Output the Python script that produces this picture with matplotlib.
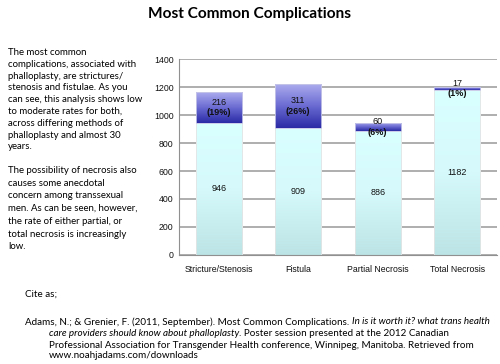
import numpy as np
import matplotlib
matplotlib.use('Agg')
import matplotlib.pyplot as plt
from matplotlib.colors import LinearSegmentedColormap

# data
categories = ['Stricture/Stenosis', 'Fistula', 'Partial Necrosis', 'Total Necrosis']
no_comp = [946, 909, 886, 1182]
comp = [216, 311, 60, 17]
pct = ['19%', '26%', '6%', '1%']
yticks = [0, 200, 400, 600, 800, 1000, 1200, 1400]

body_font = 'Lato'
para1 = ("The most common\ncomplications, associated with\nphalloplasty, are strictures/\n"
         "stenosis and fistulae. As you\ncan see, this analysis shows low\n"
         "to moderate rates for both,\nacross differing methods of\n"
         "phalloplasty and almost 30\nyears.")
para2 = ("The possibility of necrosis also\ncauses some anecdotal\n"
         "concern among transsexual\nmen. As can be seen, however,\n"
         "the rate of either partial, or\ntotal necrosis is increasingly\nlow.")

W, H = 500, 364
fig = plt.figure(figsize=(W / 100, H / 100), dpi=100)
ax = fig.add_axes([179 / W, (H - 255) / H, 318 / W, 196 / H])

x = np.arange(len(categories))
bw = 0.58
low_bars = ax.bar(x, no_comp, width=bw, color='none', edgecolor='#e4e4e4', linewidth=0.6, zorder=3)
high_bars = ax.bar(x, comp, bottom=no_comp, width=bw, color='none', edgecolor='#c8c8e8', linewidth=0.6, zorder=3)

cmap_low = LinearSegmentedColormap.from_list('low', ['#bce3e5', '#d6fafc', '#daffff'])
cmap_high = LinearSegmentedColormap.from_list('high', ['#2a2aa6', '#6a6ad2', '#acacee'])
grad = np.linspace(0, 1, 256).reshape(-1, 1)
for bars, cm in ((low_bars, cmap_low), (high_bars, cmap_high)):
    for b in bars:
        x0, y0 = b.get_x(), b.get_y()
        im = ax.imshow(grad, cmap=cm, origin='lower', aspect='auto',
                       extent=[x0, x0 + b.get_width(), y0, y0 + b.get_height()], zorder=2)
        im.set_clip_path(b)

ax.set_xlim(-0.5, len(categories) - 0.5)
ax.set_ylim(0, 1400)
ax.set_yticks(yticks)
ax.set_xticks(x)
ax.set_xticklabels(categories)
ax.yaxis.grid(True, color='#a8a8a8', linewidth=1.3, zorder=0)
ax.set_axisbelow(True)
for s in ['top', 'right']:
    ax.spines[s].set_visible(False)
ax.spines['left'].set_color('#909090')
ax.spines['bottom'].set_color('#909090')
ax.tick_params(length=0, labelsize=6.3, pad=4, labelcolor='#111111')
for lab in ax.get_xticklabels() + ax.get_yticklabels():
    lab.set_family('Liberation Sans')
ax.tick_params(axis='x', pad=7)

for i in range(len(categories)):
    ax.text(x[i], no_comp[i] / 2, str(no_comp[i]), ha='center', va='center',
            fontsize=6.5, family='Liberation Sans', color='#111111', zorder=4)
    mid = no_comp[i] + comp[i] / 2
    ax.text(x[i], mid + 38, str(comp[i]), ha='center', va='center',
            fontsize=6.5, family='Liberation Sans', color='#111111', zorder=4)
    ax.text(x[i], mid - 38, '(' + pct[i] + ')', ha='center', va='center',
            fontsize=6.5, family='Liberation Sans', weight='bold', color='#111111', zorder=4)

fig.text(250 / W, 1 - 14 / H, 'Most Common Complications', ha='center', va='center',
         fontsize=11.1, weight='bold', family=body_font)

fig.text(8 / W, 1 - 48 / H, para1, ha='left', va='top', fontsize=6.9,
         family=body_font, linespacing=1.4)
fig.text(8 / W, 1 - 166 / H, para2, ha='left', va='top', fontsize=6.9,
         family=body_font, linespacing=1.53)

fig.text(25 / W, 1 - 294 / H, 'Cite as;', ha='left', va='center', fontsize=7.1, family=body_font)

# citation with italic pieces
cite_lines = [
    (25, 322, [('Adams, N.; & Grenier, F. (2011, September). Most Common Complications. ', 'normal'),
               ('In is it worth it? what trans health', 'italic')]),
    (49, 333, [('care providers should know about phalloplasty', 'italic'),
               ('. Poster session presented at the 2012 Canadian', 'normal')]),
    (49, 345, [('Professional Association for Transgender Health conference, Winnipeg, Manitoba. Retrieved from', 'normal')]),
    (49, 356, [('www.noahjadams.com/downloads', 'normal')]),
]
renderer = fig.canvas.get_renderer()
for px, py, parts in cite_lines:
    cx = px
    for txt, style in parts:
        t = fig.text(cx / W, 1 - py / H, txt, ha='left', va='center', fontsize=7.1,
                     family=body_font, style=style)
        cx += t.get_window_extent(renderer).width

fig.savefig('out.png', dpi=100)
